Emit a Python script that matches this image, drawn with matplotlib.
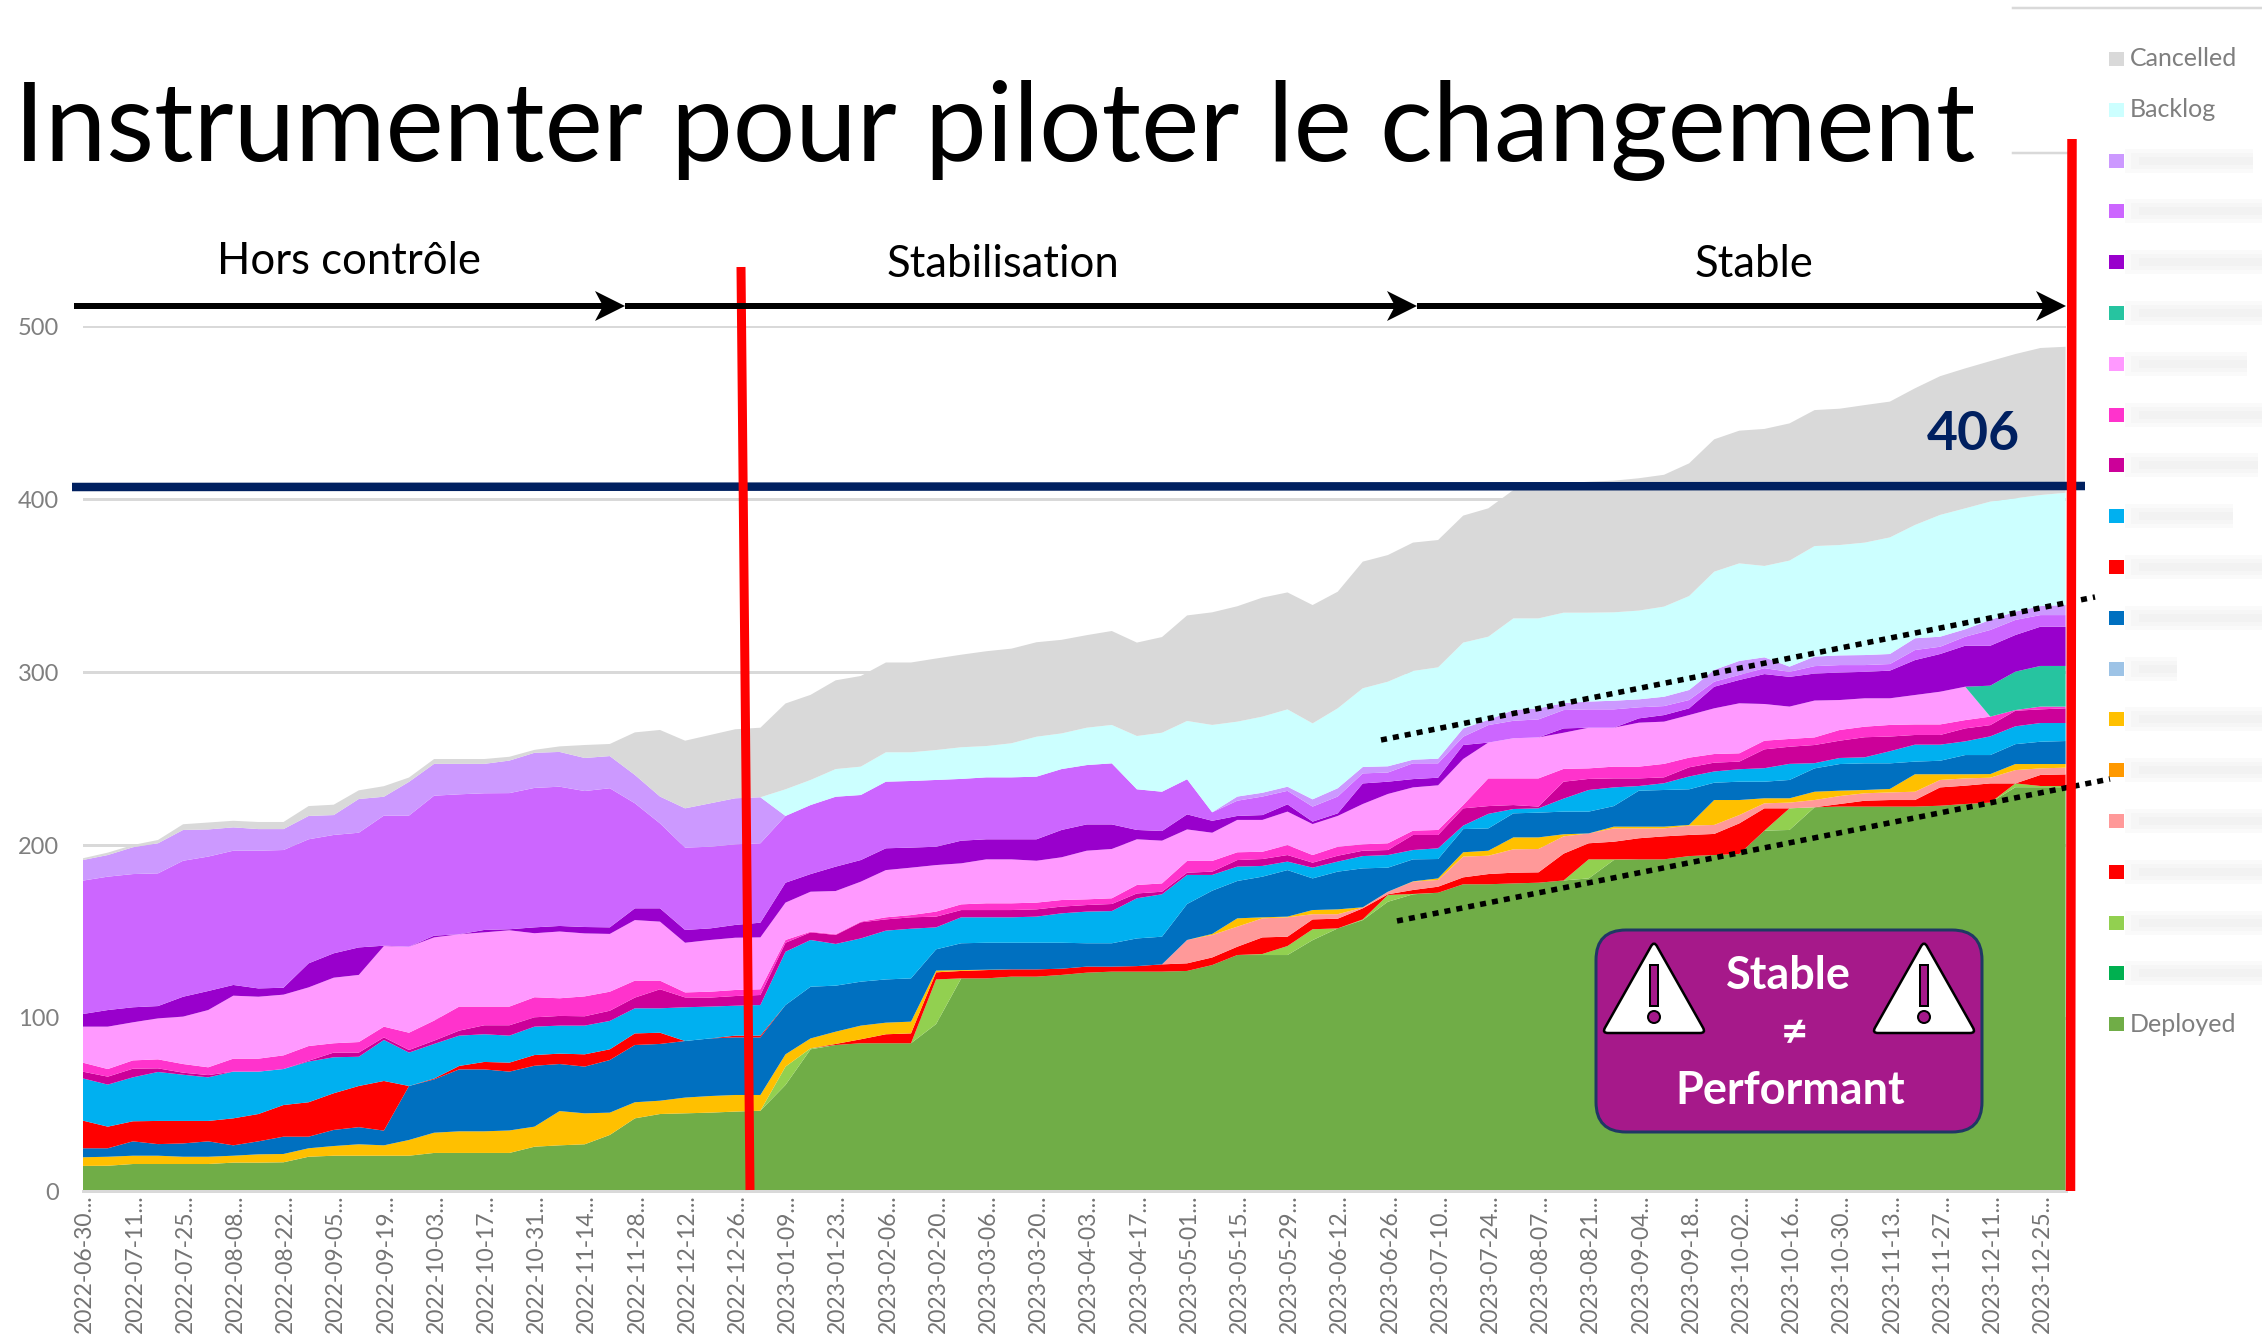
import numpy as np
import matplotlib
matplotlib.use('Agg')
import matplotlib.pyplot as plt
from matplotlib.patches import Polygon, Rectangle, Circle, FancyBboxPatch, PathPatch
from matplotlib.path import Path
from matplotlib.transforms import ScaledTranslation

plt.rcParams['font.family'] = ['Lato', 'DejaVu Sans']

W, H = 2262, 1336
GREY = '#7F7F7F'

# one point per week, every second one has a label (the first period is short)
tick_labels = [
    '2022-06-30', '2022-07-11', '2022-07-25', '2022-08-08', '2022-08-22', '2022-09-05', '2022-09-19', '2022-10-03',
    '2022-10-17', '2022-10-31', '2022-11-14', '2022-11-28', '2022-12-12', '2022-12-26', '2023-01-09', '2023-01-23',
    '2023-02-06', '2023-02-20', '2023-03-06', '2023-03-20', '2023-04-03', '2023-04-17', '2023-05-01', '2023-05-15',
    '2023-05-29', '2023-06-12', '2023-06-26', '2023-07-10', '2023-07-24', '2023-08-07', '2023-08-21', '2023-09-04',
    '2023-09-18', '2023-10-02', '2023-10-16', '2023-10-30', '2023-11-13', '2023-11-27', '2023-12-11', '2023-12-25',
]
y_ticks = [0, 100, 200, 300, 400, 500]

# cumulative height of each stacked layer
top_deployed = [
    14.5, 14.6, 15.6, 15.6, 15.6, 15.6, 16.4, 16.4, 16.6, 19.8, 20.4, 20.4, 20.4, 20.4, 22, 22, 22, 22, 25.6, 26.4,
    27, 32.4, 42, 44.5, 44.9, 45.3, 45.9, 46.4, 61.3, 81.9, 84.4, 85.4, 85.4, 85.4, 96.5, 122.9, 122.9, 123.9, 123.9, 124.9,
    126.2, 126.8, 126.8, 126.8, 127.2, 130.6, 136.4, 136.4, 136.4, 145, 151.8, 156.6, 167.2, 171.5, 172.4, 177.3, 177.3, 177.8, 178.2, 179.5,
    180.7, 191.3, 191.7, 191.7, 193.6, 194.2, 194.8, 208.3, 208.7, 221.8, 222.2, 222.2, 222.2, 222.2, 222.7, 223.7, 224.5, 233.4, 233.4, 233.4,
]
top_lightgreen = top_deployed[:28] + [
    71.9, 82.5, 84.4, 85.4, 85.4, 85.4, 122.3, 122.9, 122.9, 123.9, 123.9, 124.9,
    126.2, 126.8, 126.8, 126.8, 127.2, 130.6, 136.4, 137, 141.6, 151.3, 151.8, 157, 171.1, 171.7, 172.4, 177.3, 177.3, 177.8, 178.2, 179.5,
    191.7, 191.7, 191.7, 191.7, 193.6, 194.2, 194.8, 208.3, 221.2, 221.8, 222.2, 222.2, 222.2, 222.2, 222.7, 223.7, 224.5, 235.6, 234.1, 234.1,
]
top_red1 = top_lightgreen[:30] + [
    85, 87.7, 90.6, 91.1, 126.4, 127.2, 127.7, 128.1, 128.1, 128.5,
    129.7, 129.7, 130, 131, 131.6, 135, 141.2, 146.6, 147, 157, 157.4, 163.4, 171.5, 174, 175.9, 181.3, 183.2, 184, 184.2, 195,
    201, 201.9, 203.9, 205, 205.8, 206.4, 212.5, 221.2, 221.2, 221.8, 223.7, 225.6, 226, 226, 233.3, 234.3, 235.6, 235.6, 240.5, 240.8,
]
top_salmon = top_red1[:44] + [
    145.1, 148, 152.8, 157.6, 158.2, 160, 160, 163.8, 173, 178.8, 179.8, 193.3, 193.8, 197.5, 197.7, 205,
    206.7, 209.6, 209.6, 209.6, 211.2, 211.6, 217.3, 224.1, 224.5, 226, 228.3, 229.9, 230.4, 230.8, 237.6, 238.5, 238.9, 243.3, 244.3, 244.7,
]
top_amber = [
    19.5, 19.8, 20.4, 20.4, 19.8, 19.8, 20.4, 21.2, 21.4, 24.7, 26, 27, 26.4, 29.5, 33.7, 34.5, 34.5, 35, 37.2, 46.2,
    44.9, 45.3, 51.3, 52.2, 54, 54.9, 55.5, 55.5, 79, 88.2, 92.1, 95.6, 97.3, 97.9, 127.4, 127.7, 127.9, 128.1, 128.1, 128.5,
    129.7, 129.7, 130, 131, 145.1, 148.6, 157.6, 158.2, 158.6, 162.4, 162.8, 164, 173, 179, 180.7, 195.8, 196.7, 204.4, 204.4, 206.2,
    206.7, 210.6, 210.6, 210.6, 211.6, 226, 226, 227, 227, 230.8, 231.4, 231.8, 232.4, 240.9, 240.9, 240.9, 241, 246.8, 246.8, 246.8,
]
top_blue = [
    24.7, 24.7, 28.7, 27.1, 27.5, 28.7, 26.4, 28.7, 31.4, 31.4, 35.3, 36.9, 34.9, 60.7, 64.5, 70.3, 70.3, 69, 72.4, 73.4,
    71.9, 75.7, 84.4, 85, 86.7, 88.2, 88.8, 88.8, 107.5, 118.1, 118.7, 121, 122.3, 122.9, 139.7, 143.2, 143.5, 143.5, 143.5, 143.5,
    143.2, 143.2, 146, 147, 165.9, 173.6, 179.2, 181.7, 185.5, 180.7, 184.6, 186.5, 186.9, 191.7, 191.9, 209.2, 209.6, 218.3, 218.7, 219.3,
    219.3, 222.5, 231.4, 231.8, 232.2, 236, 236.6, 236.6, 237.6, 244.3, 246.8, 247.2, 247.2, 248.2, 248.7, 252, 252, 258.3, 259.7, 260.1,
]
top_red2 = [
    40.7, 37.2, 40.3, 40.5, 40.5, 40.5, 42, 44.5, 49.7, 51.3, 56.5, 60.7, 63.6, 60.7, 65, 72.3, 74.6, 74.2, 78.6, 79.4,
    79, 81.9, 91.1, 91.5, 86.7, 88.2, 89.8, 89.8,
] + top_blue[28:]
top_sky = [
    65.1, 61.5, 65.7, 68.8, 67.2, 65.7, 69, 69, 70.5, 74.8, 77.3, 77.6, 87.3, 80, 85, 89.8, 90.6, 89.8, 95, 95.6,
    95.6, 98.3, 105.6, 105.6, 106.2, 106.6, 107.1, 107.5, 138.3, 145.1, 142.8, 146, 150.5, 151.6, 152.4, 158.2, 158.2, 158.2, 158.6, 160.5,
    161.5, 161.8, 169.2, 171.5, 182.7, 182.7, 187.5, 187.9, 190.4, 186.9, 190.4, 193.6, 194.2, 197.1, 198.1, 211.2, 218, 220.8, 221.2, 226.8,
    231.8, 233.3, 234.1, 235.7, 239.6, 242.5, 243.8, 244.4, 246.9, 247.3, 250.3, 250.7, 254.2, 258, 258, 259.9, 262.8, 268.6, 270.5, 270.5,
]
top_magenta = [
    69, 66.1, 70.7, 70.9, 68.4, 67, 69, 69, 70.5, 75.3, 80, 80, 88.8, 81.5, 86.9, 92.7, 95.8, 95.8, 100.4, 101.2,
    101, 104.2, 111.8, 116.6, 111.9, 111.8, 112.7, 113.3, 143.5, 149.5, 148, 155.3, 157, 158.2, 158.6, 162.4, 162.4, 162.4, 162.8, 164.4,
    165.3, 165.9, 172, 173, 184, 184.6, 191.3, 191.9, 194.2, 189.8, 193.8, 196.7, 197.1, 205.8, 205.8, 221.2, 222.5, 223.1, 222.2, 236.6,
    238.2, 238.5, 238.5, 239.1, 244.9, 247.6, 248.2, 255.3, 256.8, 257.8, 260.3, 262.3, 262.7, 263.6, 263.6, 267.4, 269.3, 277.6, 278.4, 279,
]
top_pink = [
    74.2, 70.5, 75.5, 76.1, 73.4, 71.5, 76.5, 76.5, 78.4, 83.8, 85.4, 86.1, 95, 91.5, 98.5, 106.6, 106.6, 106.6, 112, 111.4,
    112.5, 115.2, 121.6, 121.6, 114.8, 115.2, 116.2, 116.6, 145.1, 149.9, 148.4, 155.7, 158.2, 159.5, 161.5, 165.7, 166.3, 166.3, 166.7, 168.2,
    168.6, 169.2, 176.9, 177.8, 190.8, 190.8, 195.8, 196.1, 200, 194.2, 199, 200.4, 201, 208.3, 208.7, 223.1, 238.5, 238.5, 238.5, 244,
    244.3, 245.3, 245.3, 246.9, 250.5, 252.6, 253, 260.3, 261.3, 262.2, 266.5, 268.4, 269.4, 269.7, 269.7, 272.2, 274.2, 278, 280, 280,
]
top_lightpink = [
    95, 95, 97.5, 99.8, 100.8, 104.6, 112.9, 112.3, 113.5, 117.7, 123.3, 124.9, 141.6, 141.2, 146.6, 148.4, 149.5, 150.7, 149, 150,
    148.9, 148.6, 156.6, 155.7, 143.5, 145.1, 146.4, 146.6, 166.7, 173, 173.4, 178.8, 185.5, 186.9, 188.4, 189.4, 191.7, 191.7, 190.9, 192.9,
    196.7, 197.7, 203.3, 202.5, 209, 207.1, 214.5, 214.5, 219.3, 212.1, 216.8, 223.7, 229.5, 233.3, 234.5, 249.7, 259.2, 261.7, 262.2, 264.9,
    267.8, 267.8, 270.7, 271.3, 275.1, 279, 281.9, 281.5, 280, 283.5, 283.8, 284.8, 284.8, 286.7, 288.6, 291.5, 274.2, 278, 280, 280,
]
top_teal = top_lightpink[:76] + [292.1, 300.2, 303.5, 303.5]
top_purple = [
    102.3, 104.6, 106.2, 106.9, 112.3, 115.6, 119.1, 117.1, 117.5, 131.6, 137.4, 140.8, 141.8, 141.2, 147.6, 148.4, 150.9, 151.3, 152.4, 153.2,
    152.6, 152.4, 163.4, 163.4, 150.9, 151.8, 153.8, 155.1, 178.2, 183.2, 187.5, 191.3, 198.1, 198.5, 199, 202.5, 203.3, 203.3, 203.3, 208.7,
    211.9, 211.9, 208.7, 208.1, 217.7, 214, 216.8, 217.3, 223.5, 213.5, 218.3, 235.6, 236.6, 238.1, 238.9, 257.8, 259.2, 261.7, 262.2, 267.4,
    267.8, 267.8, 273.2, 275.1, 279, 291.5, 295.4, 298.8, 297.2, 299.1, 299.7, 300.1, 300.8, 306.9, 310.4, 315.2, 315.2, 321.4, 326.2, 326.2,
]
top_violet = [
    179.4, 181.7, 183.2, 183.6, 190.9, 193.3, 196.7, 196.7, 197.1, 203.3, 205.8, 207.1, 217, 217, 228.5, 229.3, 229.9, 230, 233, 233.7,
    231.2, 232.8, 224.1, 212.5, 198.5, 199, 200.4, 201, 216.8, 223.1, 227.9, 228.9, 236.6, 237, 237.6, 238.2, 239.1, 239.1, 239.5, 243.9,
    246.2, 247.2, 232.2, 230.8, 238, 218.9, 225.6, 228, 231.3, 222.2, 228, 241.4, 241.9, 247.2, 247.2, 262.6, 269.3, 271.8, 272.6, 278,
    278.4, 278.4, 279.6, 280.3, 283.8, 294.4, 298.3, 302.2, 300.1, 303.4, 304, 304, 304.6, 312.7, 314.6, 320.4, 324.3, 330.1, 332.9, 332.9,
]
top_lightviolet = [
    191.3, 194.2, 198.7, 201, 208.7, 209, 210.2, 209.2, 209.2, 216.8, 217.3, 226.6, 227.9, 236.5, 246.9, 246.9, 246.9, 248.8, 253.3, 253.8,
    250.3, 251.4, 240.5, 228, 221.2, 224.1, 227, 227.6, 216.8, 223.1, 227.9, 228.9, 236.6, 237, 237.6, 238.2, 239.1, 239.1, 239.5, 243.9,
    246.2, 247.2, 232.2, 230.8, 238, 218.9, 228, 230.2, 233.7, 226.4, 232.8, 245.1, 245.5, 249.3, 249.9, 267.4, 272.3, 278, 279, 282,
    282.9, 283.4, 284.2, 285.7, 289.6, 301.2, 306.4, 308.5, 303.1, 308.9, 309.6, 309.8, 310.4, 319.5, 320.4, 324.7, 330.1, 334.9, 338.1, 338.7,
]
top_backlog = top_lightviolet[:27] + [
    227.6, 232.2, 237.6, 243.9, 245.3, 253.6, 253.6, 254.9, 256.5, 257.2, 258.8, 262.6, 264.5,
    267.8, 269.4, 263, 264.9, 271.7, 269.4, 271.3, 274.2, 278.4, 270.3, 279, 290.6, 294.4, 300.6, 302.7, 317, 320.4, 331, 331, 334.3,
    334.3, 334.5, 335.5, 337.8, 343.9, 358, 362.8, 361.3, 364.4, 372.8, 373.4, 374.8, 377.8, 385, 390.8, 394.6, 398.5, 400.4, 402.3, 403.6,
]
top_cancelled = [
    192.3, 195.6, 200, 202.9, 212, 213, 214, 213.3, 213.3, 222.5, 223.3, 231.6, 234, 239, 249.7, 249.7, 249.7, 251, 255, 257,
    257.8, 258.4, 265.1, 266.5, 260.3, 263.6, 266.9, 267.8, 281.8, 286.8, 295.2, 297.7, 305.5, 305.5, 307.8, 310, 312, 313.5, 317.2, 318.6,
    321.3, 323.7, 317, 320.2, 332.7, 334.5, 338, 343, 346, 338.7, 346.4, 363.8, 367.6, 374.8, 376.3, 390.4, 394.6, 405.2, 408, 409,
    410, 410.6, 412, 414, 420.6, 434.5, 439.5, 440.5, 443.7, 451.4, 452.2, 454.3, 456.3, 464, 471, 475.5, 479.7, 483.8, 487.3, 488,
]

# layers from the bottom up
layer_tops = [top_deployed, top_lightgreen, top_red1, top_salmon, top_amber, top_blue, top_red2, top_sky,
              top_magenta, top_pink, top_lightpink, top_teal, top_purple, top_violet, top_lightviolet,
              top_backlog, top_cancelled]
layer_colors = ['#70AD47', '#92D050', '#FF0000', '#FF9999', '#FFC000', '#0070C0', '#FF0000', '#00B0F0',
                '#CC0099', '#FF33CC', '#FF99FF', '#26C4A0', '#9900CC', '#CC66FF', '#CC99FF',
                '#CCFFFF', '#D9D9D9']

# legend, top to bottom; the names of the middle rows are blurred in the original
legend_names = ['Cancelled', 'Backlog'] + [''] * 17 + ['Deployed']
legend_colors = ['#D9D9D9', '#CCFFFF', '#CC99FF', '#CC66FF', '#9900CC', '#26C4A0', '#FF99FF', '#FF33CC', '#CC0099',
                 '#00B0F0', '#FF0000', '#0070C0', '#9DC3E6', '#FFC000', '#FF9900', '#FF9999', '#FF0000', '#92D050',
                 '#00B050', '#70AD47']
legend_blur_end = [0, 0, 2253, 2262, 2262, 2262, 2247, 2262, 2258, 2233, 2262, 2262, 2177, 2262, 2262, 2262, 2262,
                   2262, 2262, 0]


def rounded_polygon(points, r):
    verts, codes = [], []
    n = len(points)
    for k in range(n):
        p = np.array(points[k], float)
        a = np.array(points[k - 1], float)
        b = np.array(points[(k + 1) % n], float)
        p1 = p + (a - p) / np.linalg.norm(a - p) * r
        p2 = p + (b - p) / np.linalg.norm(b - p) * r
        verts += [p1, p, p2]
        codes += [Path.MOVETO if k == 0 else Path.LINETO, Path.CURVE3, Path.CURVE3]
    verts.append(verts[0])
    codes.append(Path.CLOSEPOLY)
    return Path(verts, codes)


def px(v):
    # pixels to points at dpi 100
    return v * 0.72


fig = plt.figure(figsize=(W / 100, H / 100), dpi=100)
ax = fig.add_axes([82.7 / W, (H - 1191) / H, (2065.6 - 82.7) / W, (1191 - 326) / H])

x = np.arange(len(top_deployed))
tops = np.maximum.accumulate(np.array(layer_tops), axis=0)
series = np.diff(tops, axis=0, prepend=0)
ax.stackplot(x, series, colors=layer_colors, linewidth=0)

ax.set_xlim(0, len(x) - 1)
ax.set_ylim(0, 500)
ax.set_yticks(y_ticks)
ax.set_xticks(x[::2])
ax.set_xticklabels([t + '...' for t in tick_labels], rotation=90, fontsize=16.5, color='#737373', va='top', ha='center')
ax.tick_params(axis='both', length=0)
ax.tick_params(axis='x', pad=2.5)
ax.tick_params(axis='y', pad=17, labelsize=17, labelcolor=GREY)
for lab in ax.get_xticklabels():
    lab.set_transform(lab.get_transform() + ScaledTranslation(2 / 100, 0, fig.dpi_scale_trans))
ax.grid(axis='y', color='#D9D9D9', linewidth=px(3))
ax.set_axisbelow(True)
for name in ['top', 'left', 'right']:
    ax.spines[name].set_visible(False)
ax.spines['bottom'].set_color('#D9D9D9')
ax.spines['bottom'].set_linewidth(px(3))

# slide annotations sit on a full-figure layer in pixel coordinates
ov = fig.add_axes([0, 0, 1, 1], zorder=5)
ov.set_xlim(0, W)
ov.set_ylim(H, 0)
ov.axis('off')
ov.patch.set_alpha(0)

# stray gridlines near the legend
ov.plot([2013, 2068], [153, 153], color='#D9D9D9', lw=px(2.5))
ov.plot([2013, W], [8, 8], color='#D9D9D9', lw=px(2.5))

ov.text(14, 161, 'Instrumenter pour piloter le changement', fontsize=79.3, color='black', va='baseline', ha='left')

# navy target line
ov.plot([72, 2085], [487, 486], color='#002060', lw=px(8.5), solid_capstyle='butt', zorder=3)
ov.text(1973, 450, '406', fontsize=38.5, fontweight='bold', color='#002060', ha='center', va='baseline')

# dotted corridor
for (x0, y0, x1, y1) in [(1381, 740, 2095, 597), (1397, 921, 2110, 779)]:
    ov.plot([x0, x1], [y0, y1], color='black', lw=px(5.5), linestyle=(0, (1.1, 1.1)), dash_capstyle='butt', zorder=4)

# red phase separators
ov.plot([741, 750], [267, 1190], color='#FF0000', lw=px(9), solid_capstyle='butt', zorder=5)
ov.plot([2072, 2070.5], [139, 1191], color='#FF0000', lw=px(9.5), solid_capstyle='butt', zorder=5)

# phase arrows
for (x0, x1) in [(73.5, 625), (625, 1417), (1417, 2066)]:
    ov.plot([x0, x1 - 20], [306, 306], color='black', lw=px(6), solid_capstyle='butt', zorder=6)
    ov.add_patch(Polygon([(x1, 306), (x1 - 30, 291), (x1 - 22, 306), (x1 - 30, 321)], closed=True,
                         facecolor='black', edgecolor='none', zorder=6))
ov.text(349, 274, 'Hors contrôle', fontsize=31.4, ha='center', va='baseline', color='black', zorder=6)
ov.text(1003, 277, 'Stabilisation', fontsize=31.4, ha='center', va='baseline', color='black', zorder=6)
ov.text(1754, 277, 'Stable', fontsize=31.4, ha='center', va='baseline', color='black', zorder=6)

# callout
ov.add_patch(FancyBboxPatch((1596 + 30, 930 + 30), 386 - 60, 202 - 60, boxstyle='round,pad=30,rounding_size=30',
                            facecolor='#A6198A', edgecolor='#1F3864', lw=px(3), zorder=7))
for cx in [1654, 1924]:
    tri = rounded_polygon([(cx, 941), (cx + 52, 1033), (cx - 52, 1033)], 6)
    ov.add_patch(PathPatch(tri, facecolor='white', edgecolor='black', lw=px(2.5), zorder=8))
    ov.add_patch(Rectangle((cx - 4.3, 965), 8.6, 41, facecolor='#A6198A', edgecolor='black', lw=px(2), zorder=9))
    ov.add_patch(Circle((cx, 1017), 6, facecolor='#A6198A', edgecolor='black', lw=px(2), zorder=9))
ov.text(1788, 989, 'Stable', fontsize=32.4, fontweight='bold', color='white', ha='center', va='baseline', zorder=9)
ov.text(1794, 1033, '≠', fontsize=34, fontweight='bold', color='white', ha='center', va='center', zorder=9)
ov.text(1790, 1104, 'Performant', fontsize=32.4, fontweight='bold', color='white', ha='center', va='baseline', zorder=9)

# legend
for k, (name, col, end) in enumerate(zip(legend_names, legend_colors, legend_blur_end)):
    yc = 59 + 50.8 * k
    ov.add_patch(Rectangle((2109, yc - 7), 15, 14, facecolor=col, edgecolor='none'))
    if name:
        ov.text(2130, yc, name, fontsize=18, color=GREY, ha='left', va='center')
    elif end:
        # blurred label: a few soft overlapping bands
        for h, inset in [(24, 0), (16, 6), (8, 14)]:
            ov.add_patch(Rectangle((2125 + inset, yc - h / 2), end - 2125 - inset, h, facecolor='#8C8C8C',
                                   edgecolor='none', alpha=0.035))

fig.savefig('out.png', dpi=100)
